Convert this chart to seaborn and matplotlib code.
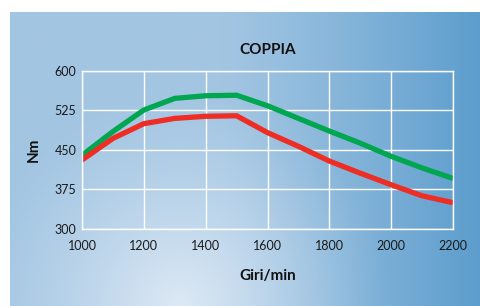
import numpy as np
import pandas as pd
import matplotlib
matplotlib.use("Agg")
import matplotlib.pyplot as plt
from matplotlib.colors import to_rgb
import seaborn as sns

# -----------------------------
# Data
# -----------------------------
rpm = [1000, 1100, 1200, 1300, 1400, 1500, 1600, 1700, 1800, 1900, 2000, 2100, 2200]
coppia_verde = [440, 485, 526, 548, 553, 554, 534, 510, 486, 463, 438, 416, 396]
coppia_rossa = [431, 472, 500, 510, 514, 515, 483, 457, 429, 406, 384, 363, 350]

x_ticks = [1000, 1200, 1400, 1600, 1800, 2000, 2200]
y_ticks = [300, 375, 450, 525, 600]

df = pd.DataFrame({
    "rpm": rpm * 2,
    "Nm": coppia_verde + coppia_rossa,
    "serie": ["verde"] * len(rpm) + ["rossa"] * len(rpm),
})

sns.set_style("white")
plt.rcParams["font.family"] = ["Lato", "DejaVu Sans"]

W, H = 481, 306
fig = plt.figure(figsize=(W / 100, H / 100), dpi=100)
fig.patch.set_facecolor("white")

# -----------------------------
# Gradient background panel
# -----------------------------
bg = fig.add_axes([10 / W, 0, 1 - 10 / W, (H - 12) / H], zorder=0)
ny, nx = 150, 240
xx, yy = np.meshgrid(np.linspace(0, 1, nx), np.linspace(0, 1, ny))
left_c = np.array(to_rgb("#a2c5e2"))
right_c = np.array(to_rgb("#5c9dcd"))
light_c = np.array(to_rgb("#dde9f5"))
t = np.clip((xx - 0.45) / 0.55, 0, 1) ** 1.2
base = left_c * (1 - t[..., None]) + right_c * t[..., None]
d = np.sqrt(((xx - 0.36) / 0.45) ** 2 + ((yy - 0.0) / 0.75) ** 2)
glow = np.clip(1 - d, 0, 1) ** 1.3
img = base * (1 - glow[..., None]) + light_c * glow[..., None]
bg.imshow(img, origin="lower", aspect="auto", extent=[0, 1, 0, 1])
bg.set_axis_off()

# -----------------------------
# Torque chart
# -----------------------------
ax = fig.add_axes([82 / W, (H - 229) / H, (453 - 82) / W, (229 - 71) / H], zorder=1)
ax.patch.set_alpha(0)

sns.lineplot(
    data=df, x="rpm", y="Nm", hue="serie",
    palette={"verde": "#00a650", "rossa": "#ee2d24"},
    linewidth=3.8, legend=False, ax=ax,
    solid_capstyle="butt",
)

ax.set_xlim(1000, 2200)
ax.set_ylim(300, 600)
ax.set_xticks(x_ticks)
ax.set_yticks(y_ticks)
ax.grid(True, color="white", linewidth=1.0)
ax.set_axisbelow(True)
for s in ax.spines.values():
    s.set_color("white")
    s.set_linewidth(1.0)
ax.tick_params(axis="x", length=0, pad=8, labelsize=9, colors="#1a1a1a")
ax.tick_params(axis="y", length=0, pad=4, labelsize=9, colors="#1a1a1a")

ax.set_title("COPPIA", fontsize=11, fontweight="bold", color="#111111", pad=12)
ax.set_xlabel("Giri/min", fontsize=11, fontweight="bold", color="#111111", labelpad=12)
ax.set_ylabel("Nm", fontsize=11, fontweight="bold", color="#111111", labelpad=10)

fig.savefig("out.png", dpi=100)
